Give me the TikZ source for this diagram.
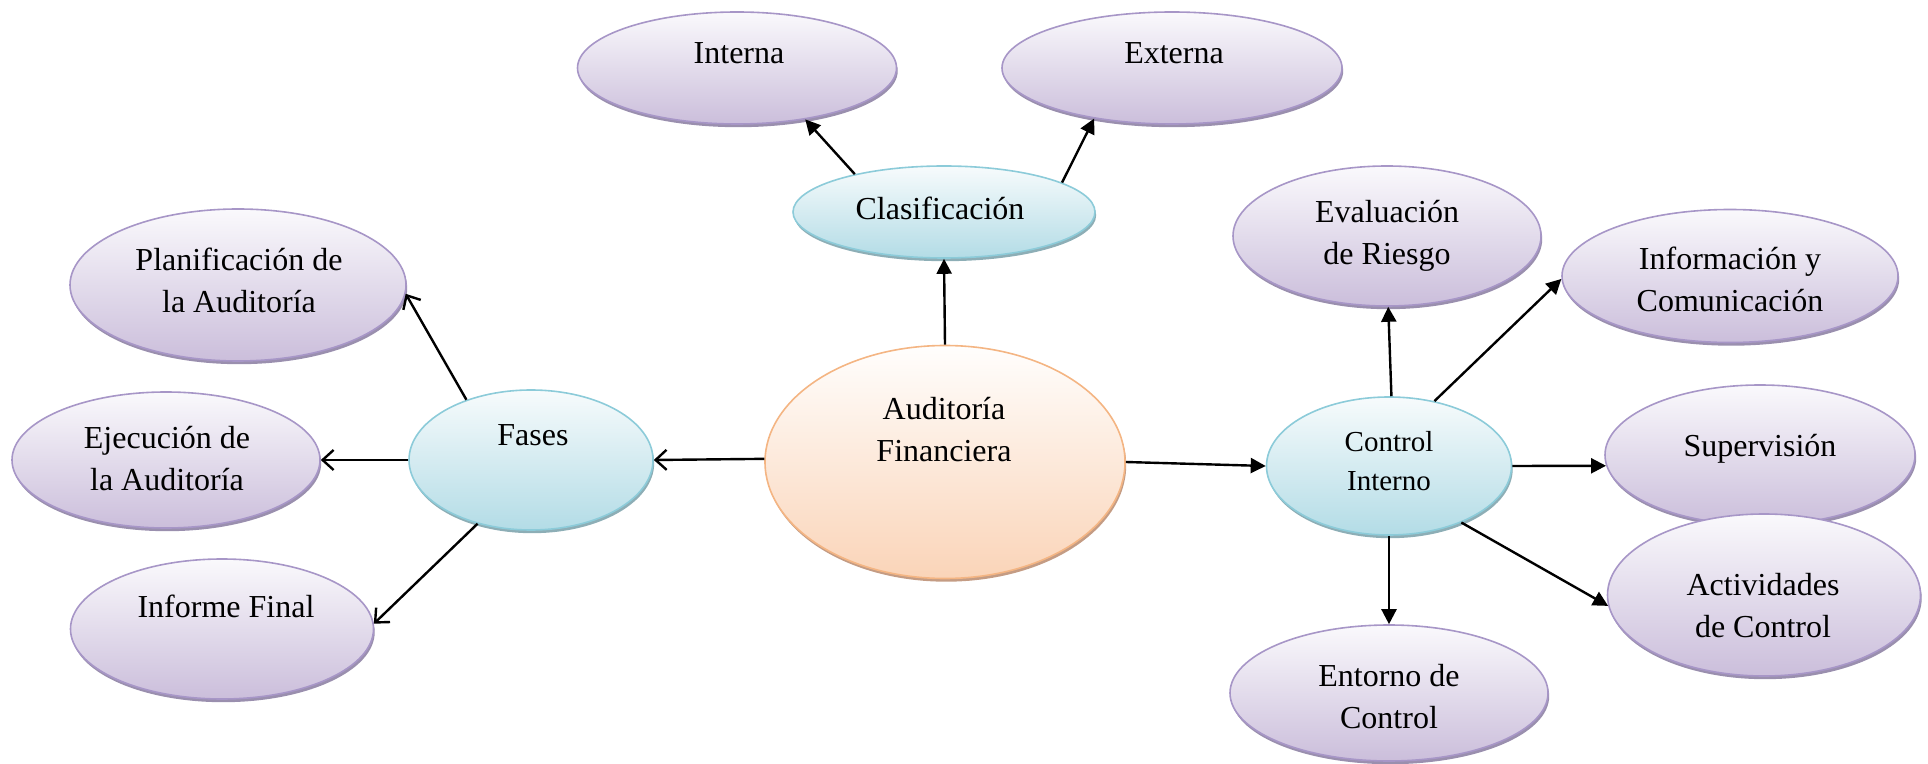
\documentclass[tikz,border=0pt]{standalone}
\usepackage{fontspec}
\setmainfont{Liberation Serif}
\usetikzlibrary{arrows.meta,shadows,shapes.geometric}

\definecolor{purpTop}{HTML}{FAF9FC}
\definecolor{purpBot}{HTML}{CBBEDB}
\definecolor{purpLine}{HTML}{A796C7}
\definecolor{purpShade}{HTML}{9A8FAE}
\definecolor{blueTop}{HTML}{F7FBFC}
\definecolor{blueBot}{HTML}{B3DCE6}
\definecolor{blueLine}{HTML}{8CCBD9}
\definecolor{blueShade}{HTML}{8DAEB6}
\definecolor{oranTop}{HTML}{FFFEFD}
\definecolor{oranBot}{HTML}{FAD4B8}
\definecolor{oranLine}{HTML}{F4B583}
\definecolor{oranShade}{HTML}{C49C84}

\begin{document}
\begin{tikzpicture}[x=0.5pt, y=-0.5pt,
  sz/.style 2 args={minimum width=#1*0.5pt, minimum height=#2*0.5pt},
  bubble/.style={ellipse, inner sep=0pt, line width=0.8pt},
  purpbub/.style={bubble, draw=purpLine, top color=purpTop, bottom color=purpBot,
    general shadow={fill=purpShade, shadow xshift=0.6pt, shadow yshift=-1.6pt}},
  bluebub/.style={bubble, draw=blueLine, top color=blueTop, bottom color=blueBot,
    general shadow={fill=blueShade, shadow xshift=0.6pt, shadow yshift=-1.6pt}},
  oranbub/.style={bubble, draw=oranLine, top color=oranTop, bottom color=oranBot,
    general shadow={fill=oranShade, shadow xshift=0.6pt, shadow yshift=-1.6pt}},
  lbl/.style={inner sep=0pt, align=center, font=\fontsize{16}{21}\selectfont},
  lblsmall/.style={inner sep=0pt, align=center, font=\fontsize{14.5}{19.5}\selectfont},
  barb/.style={line width=1.2pt, -{Straight Barb[length=5.5pt, width=10pt, line width=1.2pt]}},
  tri/.style={line width=1.2pt, -{Triangle[length=7.5pt, width=7.5pt]}}
]
\useasboundingbox (0,0) rectangle (1928,764);

% central node
\node[oranbub, sz={360}{233}] (aud) at (945,462) {};
\node[lbl] (aud-t) at (944,430) {Auditoría\\Financiera};

% classification branch
\node[bluebub, sz={302}{92}] (clas) at (944,212) {};
\node[lbl] (clas-t) at (940,208) {Clasificación};
\node[purpbub, sz={319}{112}] (int) at (737,68) {};
\node[lbl] (int-t) at (739,53) {Interna};
\node[purpbub, sz={340}{112}] (ext) at (1172,68) {};
\node[lbl] (ext-t) at (1174,53) {Externa};

% phases branch
\node[bluebub, sz={244}{140}] (fases) at (531,460) {};
\node[lbl] (fases-t) at (533,435) {Fases};
\node[purpbub, sz={336}{152}] (plan) at (238,285) {};
\node[lbl] (plan-t) at (239,280) {Planificación de\\la Auditoría};
\node[purpbub, sz={308}{136}] (ejec) at (166,460) {};
\node[lbl] (ejec-t) at (167,459) {Ejecución de\\la Auditoría};
\node[purpbub, sz={303}{140}] (inf) at (222,629) {};
\node[lbl] (inf-t) at (226,606) {Informe Final};

% internal control branch
\node[bluebub, sz={245}{138}] (ci) at (1389,466) {};
\node[lblsmall] (ci-t) at (1389,461) {Control\\Interno};
\node[purpbub, sz={308}{140}] (eval) at (1387,236) {};
\node[lbl] (eval-t) at (1387,236) {Evaluación\\de Riesgo};
\node[purpbub, sz={336}{133}] (info) at (1730,276) {};
\node[lbl] (info-t) at (1730,279) {Información y\\Comunicación};
\node[purpbub, sz={310}{140}] (sup) at (1760,455) {};
\node[lbl] (sup-t) at (1760,449) {Supervisión};
\node[purpbub, sz={313}{162}] (act) at (1764,595) {};
\node[lbl] (act-t) at (1763,606) {Actividades\\de Control};
\node[purpbub, sz={318}{136}] (ent) at (1389,693) {};
\node[lbl] (ent-t) at (1389,697) {Entorno de\\Control};

% connectors
\draw[barb] (aud.179.3) -- (fases.0);
\draw[barb] (fases.180) -- (ejec.0);
\draw[barb] (fases.137) -- (plan.-3);
\draw[barb] (fases.-130) -- (inf.2);

\draw[tri] (aud.90) -- (clas.-90);
\draw[tri] (clas.157) -- (int.-37);
\draw[tri] (clas.14) -- (ext.-147);

\draw[tri] (aud.-0.8) -- (ci.180);
\draw[tri] (ci.88) -- (eval.-89);
\draw[tri] (ci.55) -- (info.-179);
\draw[tri] (ci.0) -- (sup.184);
\draw[tri] (ci.-38) -- (act.184);
\draw[tri] (ci.-90) -- (ent.90);
\end{tikzpicture}
\end{document}
